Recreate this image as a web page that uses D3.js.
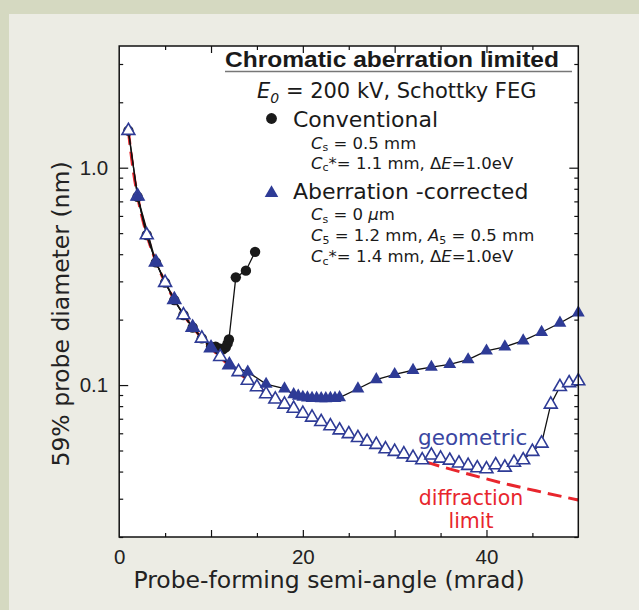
<!DOCTYPE html>
<html>
<head>
<meta charset="utf-8">
<script src="https://cdn.jsdelivr.net/npm/d3@7"></script>
<style>
  body { margin: 0; background: #ecece4; }
  svg { display: block; font-family: "DejaVu Sans", "Liberation Sans", sans-serif; }
</style>
</head>
<body>
<svg width="639" height="610"></svg>
<script>
var svg = d3.select("svg");
var width = 639, height = 610;

// Conventional probe (black circles)
var convX = [1, 2, 3, 4, 5, 6, 7, 8, 9, 10, 10.5, 11, 11.3, 11.6, 11.8, 11.95, 12.7, 13.8, 14.8];
var convY = [1.48, 0.735, 0.49, 0.367, 0.296, 0.246, 0.21, 0.184, 0.164, 0.15, 0.15, 0.147, 0.146, 0.149, 0.155, 0.162, 0.313, 0.336, 0.41];

// Aberration-corrected (filled triangles)
var corrX = [2, 4, 6, 8, 10, 12, 14, 16, 18, 19, 19.5, 20, 20.5, 21, 21.5, 22, 22.5, 23, 23.5, 24,
             26, 28, 30, 32, 34, 36, 38, 40, 42, 44, 46, 48, 50];
var corrY = [0.735, 0.367, 0.246, 0.184, 0.148, 0.1236, 0.115, 0.101, 0.0962, 0.0905, 0.089, 0.088, 0.0875, 0.087, 0.087, 0.0868, 0.0868, 0.087, 0.087, 0.0876,
             0.0962, 0.106, 0.112, 0.117, 0.121, 0.1245, 0.131, 0.1437, 0.15, 0.16, 0.175, 0.193, 0.215];

// Geometric (open triangles), 1..50 mrad
var geoX = [1, 2, 3, 4, 5, 6, 7, 8, 9, 10, 11, 12, 13, 14, 15, 16, 17, 18, 19, 20, 21, 22, 23, 24, 25,
            26, 27, 28, 29, 30, 31, 32, 33, 34, 35, 36, 37, 38, 39, 40, 41, 42, 43, 44, 45, 46, 47, 48, 49, 50];
var geoY = [1.48, 0.74, 0.49, 0.367, 0.296, 0.247, 0.21, 0.184, 0.164, 0.148, 0.135, 0.1236, 0.115, 0.105, 0.098, 0.091, 0.086, 0.0815, 0.078, 0.074, 0.071, 0.0678, 0.0648, 0.062, 0.0596,
            0.0572, 0.055, 0.0532, 0.0508, 0.0494, 0.0481, 0.0464, 0.0452, 0.0475, 0.046, 0.045, 0.0437, 0.0426, 0.0415, 0.0411, 0.0429, 0.0418, 0.044, 0.0452, 0.0494, 0.0539, 0.0815, 0.0982, 0.1023, 0.1044];

// Diffraction limit (red dashed)
var diffX = [1, 1.5, 2, 2.5, 3, 4, 5, 6, 7, 8, 9, 10, 12, 14, 16, 18, 20, 23, 26, 30, 34, 38, 42, 46, 50];
var diffY = [1.48, 0.99, 0.74, 0.59, 0.493, 0.37, 0.296, 0.247, 0.211, 0.185, 0.164, 0.148, 0.123, 0.106, 0.0925, 0.082, 0.074, 0.064, 0.057, 0.0493, 0.0435, 0.039, 0.0352, 0.0322, 0.0296];

// Tick values
var xMajor = [10, 20, 30, 40];
var xMinor = [5, 15, 25, 35, 45];
var xLabels = [0, 20, 40];
var yMajor = [0.1, 1];
var yMinor = [0.02, 0.03, 0.04, 0.05, 0.06, 0.07, 0.08, 0.09, 0.2, 0.3, 0.4, 0.5, 0.6, 0.7, 0.8, 0.9, 2, 3];

var blue = "#2e3b96";
var red = "#e8262d";

// backgrounds
svg.append("rect").attr("width", width).attr("height", height).attr("fill", "#d5d9c1");
svg.append("rect").attr("x", 9).attr("y", 14).attr("width", width - 9).attr("height", height - 14).attr("fill", "#ecece4");

// plot box edges (pixels)
var pL = 119.2, pR = 578.3, pT = 46, pB = 537;

var x = d3.scaleLinear().domain([0, 50]).range([pL, pR]);
var y = d3.scaleLog().domain([0.02, 3.63]).range([pB, pT]);

svg.append("rect")
  .attr("x", pL).attr("y", pT)
  .attr("width", pR - pL).attr("height", pB - pT)
  .attr("fill", "white");

// tick marks (inward on all four sides)
function ticks(axis, vals, size, tr) {
  var g = svg.append("g").attr("transform", tr)
    .call(axis.tickValues(vals).tickSize(size).tickFormat(""));
  g.select(".domain").remove();
  g.selectAll("line").attr("stroke", "#111").attr("stroke-width", 1.2);
}
ticks(d3.axisBottom(x), xMinor, -4, "translate(0," + pB + ")");
ticks(d3.axisBottom(x), xMajor, -7, "translate(0," + pB + ")");
ticks(d3.axisTop(x), xMinor, -4, "translate(0," + pT + ")");
ticks(d3.axisTop(x), xMajor, -7, "translate(0," + pT + ")");
ticks(d3.axisLeft(y), yMinor, -4, "translate(" + pL + ",0)");
ticks(d3.axisLeft(y), yMajor, -9, "translate(" + pL + ",0)");
ticks(d3.axisRight(y), yMinor, -4, "translate(" + pR + ",0)");
ticks(d3.axisRight(y), yMajor, -9, "translate(" + pR + ",0)");

// tick labels
var xl = svg.append("g").attr("transform", "translate(0," + pB + ")")
  .call(d3.axisBottom(x).tickValues(xLabels).tickSize(0).tickPadding(12).tickFormat(d3.format("d")));
xl.select(".domain").remove();
xl.selectAll("text").attr("font-size", 20.5).attr("font-family", null).attr("fill", "#222");

var yl = svg.append("g").attr("transform", "translate(" + pL + ",0)")
  .call(d3.axisLeft(y).tickValues(yMajor).tickSize(0).tickPadding(11).tickFormat(d3.format(".1f")));
yl.select(".domain").remove();
yl.selectAll("text").attr("font-size", 20.5).attr("font-family", null).attr("fill", "#222");

// axis titles
svg.append("text")
  .attr("x", 329).attr("y", 588)
  .attr("text-anchor", "middle")
  .attr("font-size", 23.5).attr("fill", "#222")
  .text("Probe-forming semi-angle (mrad)");

svg.append("text")
  .attr("transform", "translate(69,314) rotate(-90)")
  .attr("text-anchor", "middle")
  .attr("font-size", 23.5).attr("fill", "#222")
  .text("59% probe diameter (nm)");

// plot content
var plot = svg.append("g");
var zip = (xs, ys) => xs.map((v, i) => [v, ys[i]]);
var line = d3.line().x(d => x(d[0])).y(d => y(d[1]));

plot.append("path")
  .datum(zip(diffX, diffY))
  .attr("d", line.curve(d3.curveMonotoneX))
  .attr("fill", "none").attr("stroke", red)
  .attr("stroke-width", 3).attr("stroke-dasharray", "14,7");

line.curve(d3.curveLinear);
[zip(convX, convY), zip(geoX, geoY), zip(corrX, corrY)].forEach(function(pts) {
  plot.append("path")
    .datum(pts)
    .attr("d", line)
    .attr("fill", "none").attr("stroke", "#111").attr("stroke-width", 1.3);
});

plot.selectAll(".conv")
  .data(zip(convX, convY))
  .enter().append("circle")
  .attr("cx", d => x(d[0])).attr("cy", d => y(d[1]))
  .attr("r", 5.2).attr("fill", "#1a1a1a");

var tri = d3.symbol().type(d3.symbolTriangle).size(72);

plot.selectAll(".geo")
  .data(zip(geoX, geoY))
  .enter().append("path")
  .attr("d", tri)
  .attr("transform", d => "translate(" + x(d[0]) + "," + y(d[1]) + ")")
  .attr("fill", "white").attr("stroke", blue).attr("stroke-width", 1.6);

plot.selectAll(".corr")
  .data(zip(corrX, corrY))
  .enter().append("path")
  .attr("d", tri)
  .attr("transform", d => "translate(" + x(d[0]) + "," + y(d[1]) + ")")
  .attr("fill", blue);

// frame
svg.append("rect")
  .attr("x", pL).attr("y", pT)
  .attr("width", pR - pL).attr("height", pB - pT)
  .attr("fill", "none").attr("stroke", "#111").attr("stroke-width", 1.5);

// annotations
svg.append("text").attr("x", 418).attr("y", 445)
  .attr("font-size", 21.5).attr("fill", "#3a46a2").text("geometric");
svg.append("text").attr("x", 471).attr("y", 505).attr("text-anchor", "middle")
  .attr("font-size", 20.5).attr("fill", red).text("diffraction");
svg.append("text").attr("x", 471).attr("y", 528).attr("text-anchor", "middle")
  .attr("font-size", 20.5).attr("fill", red).text("limit");

// legend
var lg = svg.append("g").attr("fill", "#1a1a1a");

lg.append("text").attr("x", 225).attr("y", 66.5)
  .attr("font-family", "Liberation Sans, Arial, sans-serif")
  .attr("font-size", 22).attr("font-weight", "bold")
  .attr("textLength", 334).attr("lengthAdjust", "spacingAndGlyphs")
  .text("Chromatic aberration limited");
lg.append("line").attr("x1", 225).attr("x2", 572).attr("y1", 71.5).attr("y2", 71.5)
  .attr("stroke", "#777").attr("stroke-width", 1.6);

var e0 = lg.append("text").attr("x", 257).attr("y", 98).attr("font-size", 21);
e0.append("tspan").attr("font-style", "italic").text("E");
e0.append("tspan").attr("font-style", "italic").attr("font-size", 14).attr("dy", 5).text("0");
e0.append("tspan").attr("dy", -5).text(" = 200 kV, Schottky FEG");

lg.append("circle").attr("cx", 271.5).attr("cy", 118.5).attr("r", 5.4).attr("fill", "#1a1a1a");
lg.append("text").attr("x", 293).attr("y", 127).attr("font-size", 22).text("Conventional");

lg.append("path").attr("d", d3.symbol().type(d3.symbolTriangle).size(80))
  .attr("transform", "translate(271.5,193)").attr("fill", blue);
lg.append("text").attr("x", 293).attr("y", 198.5).attr("font-size", 22).text("Aberration -corrected");

// C_s style lines: [text, style] parts
function paramLine(yy, parts) {
  var t = lg.append("text").attr("x", 311).attr("y", yy).attr("font-size", 16.5);
  parts.forEach(function(p) {
    var s = t.append("tspan").text(p[0]);
    if (p[1] === "i") s.attr("font-style", "italic");
    if (p[1] === "sub") s.attr("font-size", 11).attr("dy", 2.5);
    if (p[1] === "up") s.attr("dy", -2.5);
  });
}
paramLine(148.5, [["C", "i"], ["s", "sub"], [" = 0.5 mm", "up"]]);
paramLine(168.5, [["C", "i"], ["c", "sub"], ["*= 1.1 mm, \u0394", "up"], ["E", "i"], ["=1.0eV", ""]]);
paramLine(220, [["C", "i"], ["s", "sub"], [" = 0 ", "up"], ["\u03bc", "i"], ["m", ""]]);
paramLine(241, [["C", "i"], ["5", "sub"], [" = 1.2 mm, ", "up"], ["A", "i"], ["5", "sub"], [" = 0.5 mm", "up"]]);
paramLine(262, [["C", "i"], ["c", "sub"], ["*= 1.4 mm, \u0394", "up"], ["E", "i"], ["=1.0eV", ""]]);
</script>
</body>
</html>
